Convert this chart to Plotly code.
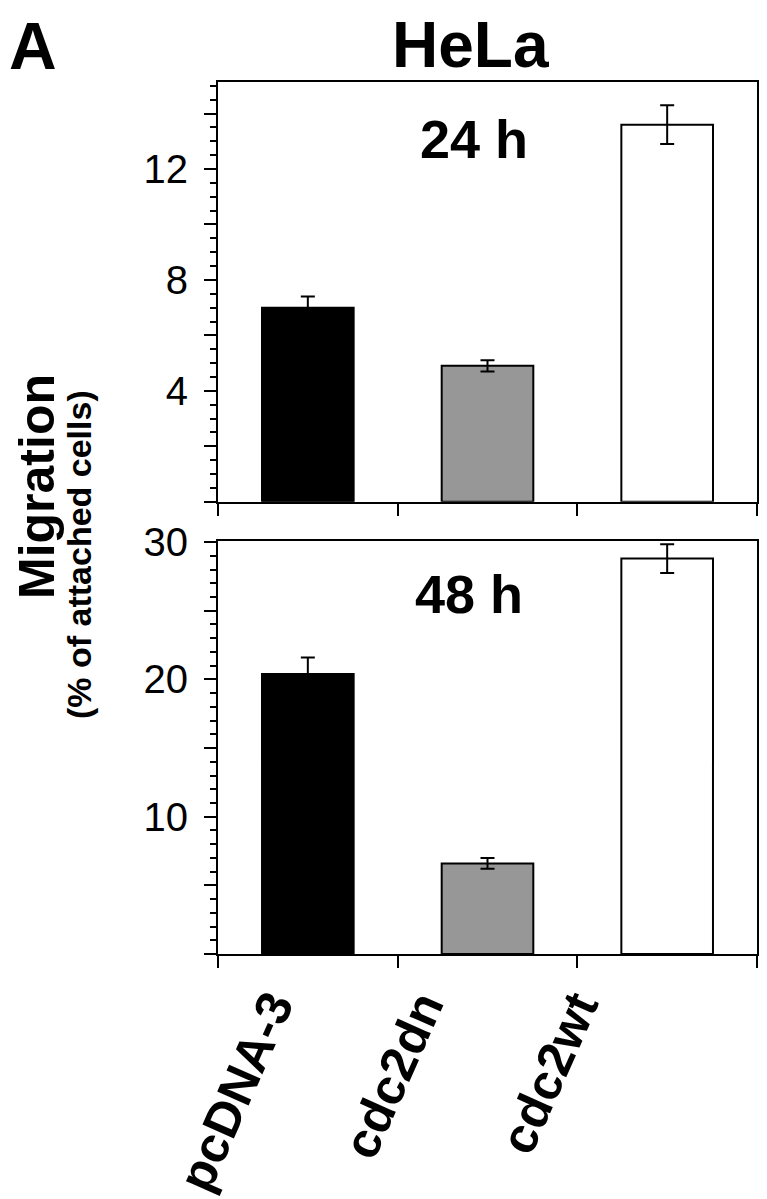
import plotly.graph_objects as go

# data
constructs = ['pcDNA-3', 'cdc2dn', 'cdc2wt']
bar_colors = ['black', '#979797', 'white']

mig_24h = [7.0, 4.9, 13.6]
err_24h = [0.4, 0.2, 0.7]

mig_48h = [20.4, 6.6, 28.8]
err_48h = [1.2, 0.4, 1.05]

ticks_24h = [0, 2, 4, 6, 8, 10, 12, 14]
labels_24h = ['', '', '4', '', '8', '', '12', '']
ticks_48h = [0, 5, 10, 15, 20, 25, 30]
labels_48h = ['', '', '10', '', '20', '', '30']

W, H = 767, 1199
OFF = 8  # page margin around the plot div
reg = 'Liberation Sans, Arial, sans-serif'

def px(x):
    return (x - OFF) / W

def py(y):
    return 1 - (y - OFF) / H

fig = go.Figure()
for vals, errs, xa, ya in [(mig_24h, err_24h, 'x', 'y'), (mig_48h, err_48h, 'x2', 'y2')]:
    fig.add_trace(go.Bar(
        x=constructs, y=vals, width=0.51,
        marker=dict(color=bar_colors, line=dict(color='black', width=2)),
        error_y=dict(type='data', array=errs, color='black', thickness=2, width=7),
        xaxis=xa, yaxis=ya))

xcommon = dict(domain=[px(218), px(757)], range=[-0.5, 2.5], autorange=False,
               showline=True, linecolor='black', linewidth=2,
               mirror=True, ticks='outside', tickson='boundaries', ticklen=12, tickwidth=2,
               tickcolor='black', showgrid=False, automargin=False, showticklabels=False)
ycommon = dict(showline=True, linecolor='black', linewidth=2, mirror=True,
               ticks='outside', ticklen=12, tickwidth=2, tickcolor='black',
               showgrid=False, zeroline=False, tickmode='array', automargin=False,
               tickfont=dict(family=reg, size=40, color='black'), ticklabelstandoff=8)

fig.update_layout(
    width=W, height=H, margin=dict(l=0, r=0, t=0, b=0),
    plot_bgcolor='white', paper_bgcolor='white', showlegend=False,
    xaxis=dict(anchor='y', **xcommon),
    xaxis2=dict(anchor='y2', **xcommon),
    yaxis=dict(anchor='x', domain=[py(501.7), py(81.7)], range=[0, 15.15],
               tickvals=ticks_24h, ticktext=labels_24h,
               minor=dict(tickmode='linear', tick0=0, dtick=0.5, ticks='outside',
                          ticklen=6, tickwidth=1.5, tickcolor='black', showgrid=False),
               **ycommon),
    yaxis2=dict(anchor='x2', domain=[py(954), py(540.7)], range=[0, 30.1],
                tickvals=ticks_48h, ticktext=labels_48h,
                minor=dict(tickmode='linear', tick0=0, dtick=1, ticks='outside',
                           ticklen=6, tickwidth=1.5, tickcolor='black', showgrid=False),
                **ycommon),
)

def note(text, x, y, size, angle=0, xanchor='center', yanchor='middle'):
    fig.add_annotation(text=text, x=x, y=y, xref='paper', yref='paper', borderpad=0,
                       showarrow=False, textangle=angle, xanchor=xanchor, yanchor=yanchor,
                       font=dict(family=reg, size=size, color='black', weight='bold'))

note('A', 0, 1, 66, xanchor='left', yanchor='top')
note('HeLa', px(470), 1, 64, yanchor='top')
note('24 h', px(474), py(139), 54)
note('48 h', px(469), py(594), 54)
note('Migration', 0, py(487), 50, angle=-90, xanchor='left')
note('(% of attached cells)', px(79), py(555), 34, angle=-90)

# category labels under the lower panel, hung from each bar
label_shift = [-2, -32, -56]
for name, dx in zip(constructs, label_shift):
    fig.add_annotation(text=name, x=name, xref='x2', y=py(983), yref='paper',
                       xshift=dx, xanchor='right', yanchor='top', textangle=-66,
                       showarrow=False, borderpad=0,
                       font=dict(family=reg, size=50, color='black', weight='bold'))

fig.write_html('out.html')
